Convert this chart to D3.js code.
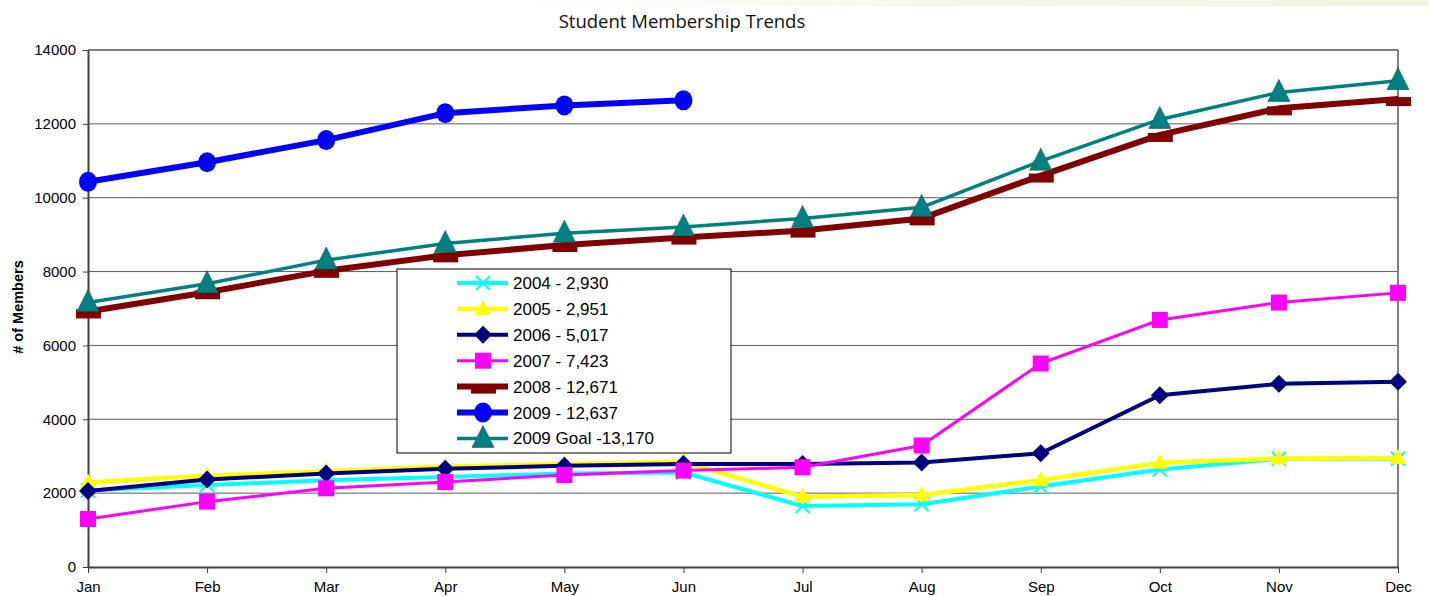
<!DOCTYPE html>
<html>
<head>
<meta charset="utf-8">
<script src="https://cdn.jsdelivr.net/npm/d3@7"></script>
<style>
  body { margin: 0; background: #fff; }
  svg { display: block; font-family: Arial, "Liberation Sans", sans-serif; }
</style>
</head>
<body>
<div id="chart"></div>
<script>
/* global d3 */

// data
const months = ['Jan', 'Feb', 'Mar', 'Apr', 'May', 'Jun', 'Jul', 'Aug', 'Sep', 'Oct', 'Nov', 'Dec'];
const yTicks = [0, 2000, 4000, 6000, 8000, 10000, 12000, 14000];

const v2004 = [2070, 2220, 2350, 2440, 2530, 2560, 1650, 1700, 2180, 2640, 2930, 2930];
const v2005 = [2290, 2470, 2590, 2720, 2790, 2850, 1900, 1950, 2350, 2820, 2940, 2951];
const v2006 = [2060, 2370, 2530, 2660, 2740, 2790, 2790, 2830, 3080, 4650, 4960, 5017];
const v2007 = [1300, 1770, 2130, 2300, 2490, 2610, 2700, 3290, 5510, 6690, 7160, 7423];
const v2008 = [6920, 7440, 8020, 8440, 8720, 8920, 9110, 9440, 10600, 11700, 12420, 12671];
const v2009 = [10430, 10960, 11560, 12290, 12500, 12637];
const vGoal = [7160, 7670, 8310, 8760, 9040, 9210, 9440, 9740, 10990, 12120, 12850, 13170];

const seriesNames = ['2004 - 2,930', '2005 - 2,951', '2006 - 5,017', '2007 - 7,423',
  '2008 - 12,671', '2009 - 12,637', '2009 Goal -13,170'];

const series = [
  { name: seriesNames[0], values: v2004, color: '#00ffff', width: 4, marker: 'x' },
  { name: seriesNames[1], values: v2005, color: '#ffff00', width: 4.5, marker: 'triangle' },
  { name: seriesNames[2], values: v2006, color: '#000080', width: 4, marker: 'diamond' },
  { name: seriesNames[3], values: v2007, color: '#ff00ff', width: 3, marker: 'square' },
  { name: seriesNames[4], values: v2008, color: '#800000', width: 6, marker: 'dash' },
  { name: seriesNames[5], values: v2009, color: '#0000ff', width: 6, marker: 'circle' },
  { name: seriesNames[6], values: vGoal, color: '#008080', width: 3.5, marker: 'bigtriangle' },
];

const width = 1429;
const height = 596;
const plot = { left: 88, right: 1398, top: 50, bottom: 567 };

const svg = d3.select('#chart').append('svg')
  .attr('width', width)
  .attr('height', height);

// faint decorative band at the top right, like the slide background
const bg = svg.append('defs').append('linearGradient')
  .attr('id', 'band')
  .attr('x1', 0).attr('x2', 1);
bg.append('stop').attr('offset', '0').attr('stop-color', '#ffffff');
bg.append('stop').attr('offset', '0.5').attr('stop-color', '#f4f8ea');
bg.append('stop').attr('offset', '1').attr('stop-color', '#eef5e0');
svg.append('rect')
  .attr('x', 500).attr('y', 0)
  .attr('width', width - 500).attr('height', 6)
  .attr('fill', 'url(#band)');

const x = d3.scalePoint()
  .domain(months)
  .range([plot.left, plot.right]);

const y = d3.scaleLinear()
  .domain([0, 14000])
  .range([plot.bottom, plot.top]);

// gridlines
svg.append('g')
  .selectAll('line')
  .data(yTicks.filter(d => d > 0))
  .enter().append('line')
  .attr('x1', plot.left)
  .attr('x2', plot.right)
  .attr('y1', d => y(d))
  .attr('y2', d => y(d))
  .attr('stroke', d => (d === 14000 ? '#808080' : '#5a5a5a'))
  .attr('stroke-width', d => (d === 14000 ? 2 : 1));

// right border of the plot area
svg.append('line')
  .attr('x1', plot.right).attr('x2', plot.right)
  .attr('y1', plot.top).attr('y2', plot.bottom)
  .attr('stroke', '#808080')
  .attr('stroke-width', 2);

// axes
const yAxis = svg.append('g')
  .attr('transform', `translate(${plot.left},0)`)
  .call(d3.axisLeft(y).tickValues(yTicks).tickSize(5).tickSizeOuter(0).tickFormat(d3.format('d')));
const xAxis = svg.append('g')
  .attr('transform', `translate(0,${plot.bottom})`)
  .call(d3.axisBottom(x).tickSize(6).tickSizeOuter(0));

[yAxis, xAxis].forEach((ax) => {
  ax.select('.domain').attr('stroke', '#404040').attr('stroke-width', 2);
  ax.selectAll('.tick line').attr('stroke', '#404040');
  ax.selectAll('.tick text')
    .attr('fill', '#000')
    .attr('font-size', 15)
    .attr('font-family', 'Arial, "Liberation Sans", sans-serif');
});
yAxis.selectAll('.tick text').attr('x', -12);
xAxis.selectAll('.tick text').attr('y', 14);

// titles
svg.append('text')
  .attr('x', 682)
  .attr('y', 28)
  .attr('text-anchor', 'middle')
  .attr('font-size', 18.5)
  .attr('font-family', '"Open Sans", "Noto Sans", sans-serif')
  .attr('fill', '#111')
  .text('Student Membership Trends');

svg.append('text')
  .attr('transform', 'translate(23,307) rotate(-90)')
  .attr('text-anchor', 'middle')
  .attr('font-size', 14.5)
  .attr('font-weight', 'bold')
  .text('# of Members');

// marker drawing
function drawMarker(g, type, color) {
  if (type === 'x') {
    g.append('path')
      .attr('d', 'M-7,-7L7,7M-7,7L7,-7')
      .attr('stroke', color)
      .attr('stroke-width', 2)
      .attr('fill', 'none');
  } else if (type === 'triangle') {
    g.append('path')
      .attr('d', 'M0,-9L8,6L-8,6Z')
      .attr('fill', color);
  } else if (type === 'bigtriangle') {
    g.append('path')
      .attr('d', 'M0,-13L11,9L-11,9Z')
      .attr('fill', color)
      .attr('stroke', '#0a5a5a')
      .attr('stroke-width', 0.6);
  } else if (type === 'diamond') {
    g.append('path')
      .attr('d', 'M0,-9L9,0L0,9L-9,0Z')
      .attr('fill', color);
  } else if (type === 'square') {
    g.append('rect')
      .attr('x', -8).attr('y', -8)
      .attr('width', 16).attr('height', 16)
      .attr('fill', color);
  } else if (type === 'dash') {
    g.append('rect')
      .attr('x', -12).attr('y', -2)
      .attr('width', 25).attr('height', 9)
      .attr('fill', color);
  } else if (type === 'circle') {
    g.append('ellipse')
      .attr('rx', 9)
      .attr('ry', 10)
      .attr('fill', color);
  }
}

const line = d3.line()
  .x((d, i) => x(months[i]))
  .y(d => y(d));

series.forEach((s) => {
  const g = svg.append('g');
  g.append('path')
    .datum(s.values)
    .attr('d', line)
    .attr('fill', 'none')
    .attr('stroke', s.color)
    .attr('stroke-width', s.width)
    .attr('stroke-linejoin', 'round');
  s.values.forEach((v, i) => {
    const m = g.append('g')
      .attr('transform', `translate(${x(months[i])},${y(v)})`);
    drawMarker(m, s.marker, s.color);
  });
});

// legend
const legend = svg.append('g')
  .attr('transform', 'translate(397,269)');
legend.append('rect')
  .attr('width', 334)
  .attr('height', 184)
  .attr('fill', '#fff')
  .attr('stroke', '#000')
  .attr('stroke-width', 1);

const rows = legend.selectAll('g.row')
  .data(series)
  .enter().append('g')
  .attr('class', 'row')
  .attr('transform', (d, i) => `translate(0,${14 + i * 25.9})`);

rows.append('line')
  .attr('x1', 60).attr('x2', 111)
  .attr('stroke', d => d.color)
  .attr('stroke-width', d => d.width);
rows.each(function addMarker(d) {
  const m = d3.select(this).append('g').attr('transform', 'translate(86,0)');
  drawMarker(m, d.marker, d.color);
});
rows.append('text')
  .attr('x', 116)
  .attr('y', 6)
  .attr('font-size', 17)
  .attr('fill', '#000')
  .text(d => d.name);
</script>
</body>
</html>
